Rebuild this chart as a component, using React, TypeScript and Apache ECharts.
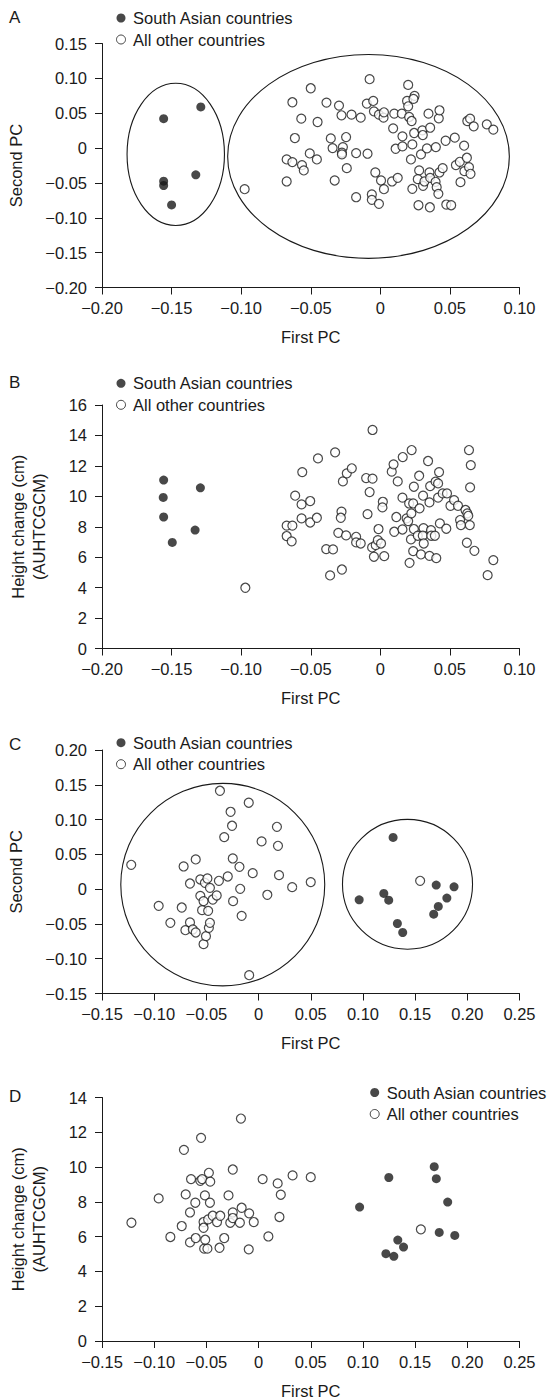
import React, { useEffect, useRef } from 'react';
import * as echarts from 'echarts';

// ---------- data ----------
const legendNames = ['South Asian countries', 'All other countries'];
const panelLetters = ['A', 'B', 'C', 'D'];

// Panel A: First PC vs Second PC (all countries)
const aSouth: number[][] = [
  [-0.1557, 0.0422], [-0.129, 0.059], [-0.1326, -0.0384], [-0.1557, -0.0475], [-0.1557, -0.0537], [-0.15, -0.0815],
];
const aOther: number[][] = [
  [-0.0975, -0.059], [-0.0632, 0.0657], [-0.05, 0.0858], [-0.0568, 0.0422], [-0.0614, 0.0144], [-0.0673, -0.0163],
  [-0.0632, -0.0201], [-0.0673, -0.0479], [-0.0563, -0.0244], [-0.055, -0.0321], [-0.0507, -0.0077], [-0.0456, -0.0163],
  [-0.0451, 0.0374], [-0.0387, 0.0652], [-0.0356, 0.0139], [-0.0343, 0], [-0.0328, -0.0465], [-0.0297, 0.0609],
  [-0.0279, 0.047], [-0.0269, 0.0014], [-0.0276, -0.0067], [-0.0276, -0.0091], [-0.0246, 0.0158], [-0.0241, -0.0288],
  [-0.0207, 0.0479], [-0.0141, 0.0436], [-0.0174, -0.0072], [-0.0174, -0.0705], [-0.0092, -0.0081], [-0.0097, 0.0638],
  [-0.0077, 0.0988], [-0.0051, 0.0676], [-0.0046, 0.0527], [-0.001, 0.0479], [0.0023, 0.0436], [0.0026, 0.0513],
  [-0.0036, -0.035], [0.0005, -0.0465], [0.0026, -0.059], [-0.0061, -0.0666], [-0.0061, -0.0743], [-0.001, -0.08],
  [0.0084, -0.0479], [0.0125, -0.0427], [0.01, 0.0494], [0.0092, 0.0283], [0.011, -0.001], [0.0154, 0.0494],
  [0.0159, 0.0168], [0.0159, 0.0024], [0.02, 0.0906], [0.0192, 0.0676], [0.02, 0.0599], [0.0207, 0.0446],
  [0.0225, 0.0388], [0.0246, 0.0748], [0.0238, 0.0705], [0.0243, 0.0216], [0.023, 0.0053], [0.022, -0.0163],
  [0.023, -0.0585], [0.0274, -0.082], [0.0279, -0.0321], [0.0269, -0.0446], [0.0292, -0.0091], [0.0302, 0.0254],
  [0.0305, 0.0187], [0.0307, -0.0542], [0.0317, -0.0479], [0.0346, 0.0494], [0.0358, 0.0292], [0.0335, -0.0005],
  [0.0353, -0.035], [0.0358, -0.0427], [0.0356, -0.0849], [0.0399, 0.0014], [0.0397, -0.0484], [0.0405, -0.0561],
  [0.0417, -0.0657], [0.042, 0.0427], [0.0425, 0.0542], [0.0425, -0.035], [0.0448, -0.0288], [0.0469, 0.0105],
  [0.0474, -0.081], [0.0509, -0.082], [0.0535, 0.0149], [0.0543, -0.0244], [0.0571, -0.0197], [0.0576, -0.0489],
  [0.0602, 0.0034], [0.0622, -0.0139], [0.0604, -0.0331], [0.0625, 0.0388], [0.0645, 0.0422], [0.0671, 0.0312],
  [0.0637, -0.0273], [0.0648, -0.0369], [0.0765, 0.034], [0.0812, 0.0264],
];
// ellipses [cx, cy, rx, ry] in data units
const aEllipses: number[][] = [
  [-0.147, -0.009, 0.035, 0.102],
  [-0.0085, -0.012, 0.1012, 0.1462],
];

// Panel B: First PC vs height change (cm)
const bSouth: number[][] = [
  [-0.1557, 11.07], [-0.156, 9.93], [-0.1557, 8.64], [-0.1495, 6.97], [-0.1331, 7.78], [-0.1293, 10.56],
];
const bOther: number[][] = [
  [-0.097, 3.99], [-0.0673, 7.39], [-0.0673, 8.07], [-0.0632, 8.07], [-0.0637, 7.04], [-0.0612, 10.04],
  [-0.0566, 9.47], [-0.0561, 11.59], [-0.0566, 8.55], [-0.0504, 9.69], [-0.0504, 8.28], [-0.0456, 8.59],
  [-0.0448, 12.49], [-0.0389, 6.53], [-0.0361, 4.8], [-0.034, 6.51], [-0.0325, 12.89], [-0.0302, 7.6],
  [-0.0279, 8.99], [-0.0284, 8.59], [-0.0276, 5.19], [-0.0269, 10.98], [-0.0246, 7.43], [-0.0241, 11.51],
  [-0.0205, 11.84], [-0.0174, 7.34], [-0.0174, 6.97], [-0.0141, 6.9], [-0.0102, 11.2], [-0.0092, 8.83],
  [-0.0077, 10.28], [-0.0056, 14.36], [-0.0056, 11.16], [-0.0059, 6.64], [-0.0046, 6.03], [-0.0033, 6.79],
  [-0.0013, 7.85], [-0.0018, 7.12], [0.0005, 6.9], [0.0018, 9.64], [0.0015, 9.27], [0.0028, 6.07],
  [0.0082, 11.62], [0.0095, 12.1], [0.0125, 10.98], [0.01, 7.67], [0.0115, 8.64], [0.0159, 9.91],
  [0.0161, 12.58], [0.0159, 7.82], [0.0189, 8.55], [0.0207, 9.53], [0.02, 8.37], [0.021, 5.63],
  [0.0223, 8.88], [0.0225, 13.04], [0.022, 7.17], [0.0236, 9.53], [0.0241, 10.63], [0.0241, 7.85],
  [0.0236, 6.4], [0.0269, 7.41], [0.0282, 9.21], [0.0279, 11.35], [0.0292, 6.18], [0.0307, 10.04],
  [0.031, 7.91], [0.0305, 7.41], [0.0312, 6.9], [0.0343, 12.32], [0.0358, 10.67], [0.0353, 9.6],
  [0.0353, 6.09], [0.0364, 7.78], [0.0366, 7.41], [0.0392, 7.41], [0.0402, 5.94], [0.0397, 10.96],
  [0.0415, 10.85], [0.0422, 11.59], [0.0415, 9.91], [0.0428, 8.22], [0.0448, 10.19], [0.0474, 7.87],
  [0.0479, 10.19], [0.0504, 9.38], [0.053, 9.75], [0.0558, 9.38], [0.0573, 8.44], [0.0579, 8.11],
  [0.0612, 9.1], [0.0625, 8.88], [0.0632, 8.72], [0.0622, 6.95], [0.0637, 13.04], [0.065, 12.05],
  [0.0645, 10.59], [0.0643, 8.11], [0.0676, 6.42], [0.0771, 4.82], [0.0812, 5.81],
];

// Panel C: First PC vs Second PC (subset)
const cSouth: number[][] = [
  [0.0964, -0.0153], [0.12, -0.0062], [0.1247, -0.0158], [0.1289, 0.0743], [0.133, -0.0494], [0.1381, -0.0623],
  [0.1678, -0.036], [0.1722, -0.0249], [0.1702, 0.0058], [0.1804, -0.0129], [0.1873, 0.0034],
];
const cOther: number[][] = [
  [-0.122, 0.035], [-0.0957, -0.024], [-0.0845, -0.0484], [-0.0736, -0.0264], [-0.0718, 0.0326], [-0.0701, -0.059],
  [-0.0657, 0.0081], [-0.0657, -0.0479], [-0.063, -0.058], [-0.0602, 0.0427], [-0.0602, -0.0623], [-0.0558, 0.0139],
  [-0.0558, -0.0096], [-0.0541, -0.0302], [-0.0527, -0.0173], [-0.0527, -0.0791], [-0.0514, 0.0091], [-0.0504, -0.0676],
  [-0.049, 0.0153], [-0.0483, -0.0312], [-0.0476, -0.0556], [-0.0466, 0.0019], [-0.0466, -0.0484], [-0.0439, -0.0149],
  [-0.0401, -0.0091], [-0.038, 0.012], [-0.037, 0.1414], [-0.0329, 0.0748], [-0.0295, 0.0182], [-0.0268, 0.1112],
  [-0.0254, 0.0911], [-0.0247, 0.0441], [-0.0244, -0.0173], [-0.0183, 0.0321], [-0.0176, 0.0005], [-0.0162, -0.0384],
  [-0.0094, 0.1242], [-0.009, -0.1237], [-0.0056, 0.023], [0.0029, 0.0686], [0.0084, -0.0081], [0.0176, 0.0896],
  [0.0186, 0.0623], [0.0196, 0.0201], [0.0322, 0.0029], [0.05, 0.0101], [0.1548, 0.012],
];
const cEllipses: number[][] = [
  [-0.0343, 0.0065, 0.0977, 0.1455],
  [0.1427, 0.007, 0.0623, 0.0933],
];

// Panel D: First PC vs height change (subset)
const dSouth: number[][] = [
  [0.0968, 7.7], [0.122, 5.02], [0.1248, 9.4], [0.1296, 4.87], [0.1334, 5.8], [0.1389, 5.4],
  [0.1683, 10.02], [0.1703, 9.33], [0.1731, 6.24], [0.1812, 7.99], [0.188, 6.07],
];
const dOther: number[][] = [
  [-0.1218, 6.8], [-0.0957, 8.2], [-0.0845, 5.98], [-0.0736, 6.61], [-0.0715, 10.99], [-0.0698, 8.43],
  [-0.0657, 7.39], [-0.0657, 5.67], [-0.0647, 9.31], [-0.0606, 7.95], [-0.0602, 5.92], [-0.0551, 11.68],
  [-0.0558, 9.21], [-0.0541, 9.31], [-0.0527, 6.84], [-0.0527, 6.51], [-0.0514, 8.37], [-0.0511, 5.82],
  [-0.0521, 5.31], [-0.049, 5.31], [-0.0483, 6.99], [-0.0476, 9.67], [-0.0463, 9.16], [-0.0466, 7.95],
  [-0.0439, 7.2], [-0.0398, 6.84], [-0.0374, 5.36], [-0.0367, 7.2], [-0.0329, 5.92], [-0.0288, 8.37],
  [-0.0271, 6.8], [-0.0247, 9.86], [-0.0247, 7.39], [-0.0247, 7.07], [-0.0179, 6.8], [-0.0169, 12.79],
  [-0.0162, 7.66], [-0.0094, 5.27], [-0.009, 7.34], [-0.0046, 6.84], [0.0039, 9.31], [0.0094, 6.01],
  [0.0183, 9.06], [0.02, 7.13], [0.0213, 8.41], [0.0326, 9.52], [0.05, 9.42], [0.1555, 6.42],
];

// ---------- styling ----------
const FONT = '"Liberation Sans", Arial, Helvetica, sans-serif';
const INK = '#1a1a1a';
const FS = 16.5;

const fmtPC = (v: number) => {
  if (Math.abs(v) < 1e-9) return '0';
  const s = Math.abs(v).toFixed(2);
  return v < 0 ? '\u2212' + s : s;
};
const fmtInt = (v: number) => String(Math.round(v));

const grids = [
  { left: 102, right: 35.5, top: 43.5, height: 244 },
  { left: 102, right: 35.5, top: 405, height: 243.5 },
  { left: 102, right: 35.5, top: 750, height: 243.5 },
  { left: 102, right: 35.5, top: 1097.5, height: 243.5 },
].map((g) => ({ ...g, containLabel: false, outerBoundsMode: 'none' }));

const textStyle = { color: INK, fontSize: FS, fontFamily: FONT };

const xAxis = (gridIndex: number, min: number, max: number) => ({
  gridIndex,
  type: 'value',
  min,
  max,
  interval: 0.05,
  name: 'First PC',
  nameLocation: 'middle',
  nameGap: 41,
  nameTextStyle: textStyle,
  axisLine: { show: true, onZero: false, lineStyle: { color: INK, width: 1 } },
  axisTick: { show: true, length: 7, lineStyle: { color: INK, width: 1 } },
  axisLabel: { ...textStyle, margin: 12, formatter: fmtPC, showMinLabel: true, showMaxLabel: true },
  splitLine: { show: false },
});

const yAxis = (
  gridIndex: number,
  min: number,
  max: number,
  interval: number,
  name: string,
  nameGap: number,
  formatter: (v: number) => string
) => ({
  gridIndex,
  type: 'value',
  min,
  max,
  interval,
  name,
  nameLocation: 'middle',
  nameRotate: 90,
  nameGap,
  nameTextStyle: { ...textStyle, lineHeight: 21 },
  axisLine: { show: true, onZero: false, lineStyle: { color: INK, width: 1 } },
  axisTick: { show: true, length: 7, lineStyle: { color: INK, width: 1 } },
  axisLabel: { ...textStyle, margin: 15, formatter, showMinLabel: true, showMaxLabel: true },
  splitLine: { show: false },
});

const southStyle = { color: INK, borderColor: INK, borderWidth: 0 };
const otherStyle = { color: '#ffffff', borderColor: INK, borderWidth: 1.2 };

const scatter = (idx: number, name: string, data: number[][], south: boolean) => ({
  type: 'scatter',
  name,
  xAxisIndex: idx,
  yAxisIndex: idx,
  data,
  symbol: 'circle',
  symbolSize: 9,
  itemStyle: south ? southStyle : otherStyle,
  silent: true,
  z: south ? 3 : 2,
});

const ellipseRender = (_params: any, api: any) => {
  const c = api.coord([api.value(0), api.value(1)]);
  const s = api.size([api.value(2), api.value(3)]);
  return {
    type: 'ellipse',
    shape: { cx: c[0], cy: c[1], rx: s[0], ry: s[1] },
    style: { fill: 'none', stroke: INK, lineWidth: 1.1 },
  };
};

const ellipses = (idx: number, data: number[][]) => ({
  type: 'custom',
  xAxisIndex: idx,
  yAxisIndex: idx,
  data,
  encode: { x: 0, y: 1 },
  clip: false,
  silent: true,
  renderItem: ellipseRender,
  z: 1,
});

const legendData = [
  { name: legendNames[0], icon: 'circle', itemStyle: { color: INK, borderWidth: 0 } },
  { name: legendNames[1], icon: 'circle', itemStyle: { color: '#ffffff', borderColor: INK, borderWidth: 1 } },
];

const legend = (left: number, top: number) => ({
  left,
  top,
  padding: 0,
  orient: 'vertical',
  itemGap: 4.5,
  itemWidth: 14,
  itemHeight: 9,
  selectedMode: false,
  data: legendData,
  textStyle: { ...textStyle, lineHeight: 17, padding: 0 },
});

const letterTops = [18, 383, 745, 1097];

const option: any = {
  animation: false,
  backgroundColor: '#ffffff',
  textStyle: { fontFamily: FONT },
  grid: grids,
  xAxis: [xAxis(0, -0.2, 0.1), xAxis(1, -0.2, 0.1), xAxis(2, -0.15, 0.25), xAxis(3, -0.15, 0.25)],
  yAxis: [
    yAxis(0, -0.2, 0.15, 0.05, 'Second PC', 76, fmtPC),
    yAxis(1, 0, 16, 2, 'Height change (cm)\n(AUHTCGCM)', 53, fmtInt),
    yAxis(2, -0.15, 0.2, 0.05, 'Second PC', 76, fmtPC),
    yAxis(3, 0, 14, 2, 'Height change (cm)\n(AUHTCGCM)', 53, fmtInt),
  ],
  legend: [legend(116, 9.5), legend(116, 374.8), legend(116, 734.2), legend(369.7, 1084)],
  graphic: panelLetters.map((t, i) => ({
    type: 'text',
    left: 9,
    top: letterTops[i] - 9,
    style: { text: t, fill: INK, font: `17px ${FONT}` },
  })),
  series: [
    ellipses(0, aEllipses),
    scatter(0, legendNames[1], aOther, false),
    scatter(0, legendNames[0], aSouth, true),
    scatter(1, legendNames[1], bOther, false),
    scatter(1, legendNames[0], bSouth, true),
    ellipses(2, cEllipses),
    scatter(2, legendNames[1], cOther, false),
    scatter(2, legendNames[0], cSouth, true),
    scatter(3, legendNames[1], dOther, false),
    scatter(3, legendNames[0], dSouth, true),
  ],
};

export default function App() {
  const ref = useRef<HTMLDivElement>(null);
  useEffect(() => {
    document.body.style.margin = '0';
    if (!ref.current) return;
    const chart = echarts.init(ref.current, null, { renderer: 'svg' });
    chart.setOption(option);
    return () => {
      chart.dispose();
    };
  }, []);
  return <div ref={ref} style={{ width: 555, height: 1398 }} />;
}
